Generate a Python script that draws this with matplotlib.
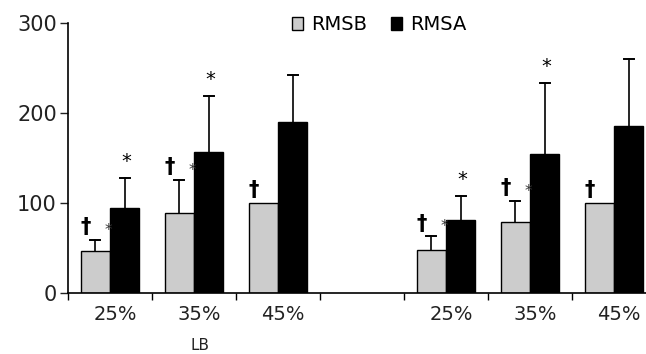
import numpy as np
import matplotlib.pyplot as plt

# slots along the x axis (slot 3 is an empty gap)
labels = ['25%', '35%', '45%', '', '25%', '35%', '45%']
slots = [0, 1, 2, 4, 5, 6]
rmsb = [47, 89, 100, 48, 79, 100]
rmsb_err = [12, 37, 0, 15, 23, 0]
rmsa = [94, 157, 190, 81, 154, 186]
rmsa_err = [34, 62, 52, 27, 79, 74]
dagger = [True, True, True, True, True, True]
star_b = [True, True, False, True, True, False]
star_a = [True, True, False, True, True, False]

fig = plt.figure(figsize=(6.46, 3.54), dpi=100)
ax = fig.add_axes([68/646, 61/354, 588/646, 270/354])

w = 0.35
x = np.array(slots, dtype=float)
ax.bar(x - w/2, rmsb, w, color='#cccccc', edgecolor='black', linewidth=1, label='RMSB', zorder=2)
ax.bar(x + w/2, rmsa, w, color='black', edgecolor='black', linewidth=1, label='RMSA', zorder=2)

# upward-only error bars with a cap on top
cap = 0.06
for xs, vals, errs in [(x - w/2, rmsb, rmsb_err), (x + w/2, rmsa, rmsa_err)]:
    for xi, v, e in zip(xs, vals, errs):
        if e <= 0:
            continue
        ax.plot([xi, xi], [v, v + e], color='black', lw=1.2, zorder=1)
        ax.plot([xi - cap, xi + cap], [v + e, v + e], color='black', lw=1.4, zorder=1)

# significance marks
for i, xi in enumerate(x):
    top_b = rmsb[i] + rmsb_err[i]
    if dagger[i]:
        ax.text(xi - w/2 - 0.12, top_b + 3, '†', ha='center', va='bottom',
                fontsize=15, fontweight='bold')
    if star_b[i]:
        ax.text(xi - 0.02, top_b + 2, '*', ha='center', va='bottom', fontsize=11, color='#333333')
    if star_a[i]:
        ax.text(xi + w/2 + 0.02, rmsa[i] + rmsa_err[i] + 8, '*', ha='center', va='bottom', fontsize=14)

ax.set_xlim(-0.5, 6.5)
ax.set_ylim(0, 300)
ax.set_yticks([0, 100, 200, 300])
ax.tick_params(axis='y', labelsize=15, length=6, width=1, direction='out', pad=2, colors='#222222')

ax.set_xticks(np.arange(-0.5, 6.5, 1))
ax.set_xticklabels([])
ax.tick_params(axis='x', which='major', length=5, width=1, direction='out')
ax.set_xticks(np.arange(7) + 0.06, minor=True)
ax.set_xticklabels(labels, minor=True)
ax.tick_params(axis='x', which='minor', length=0, labelsize=14, pad=9, colors='#222222')

for s in ['top', 'right']:
    ax.spines[s].set_visible(False)
for s in ['left', 'bottom']:
    ax.spines[s].set_linewidth(1.2)

fig.text(200/646, 1 - 346/354, 'LB', ha='center', va='center', fontsize=11, color='#222222')

ax.legend(loc='center left', bbox_to_anchor=(284/646, 1 - 25/354), bbox_transform=fig.transFigure,
          ncol=2, frameon=False, fontsize=14, handlelength=0.6, handleheight=0.6,
          handletextpad=0.4, columnspacing=1.2, borderaxespad=0)

fig.savefig('out.png', dpi=100)
